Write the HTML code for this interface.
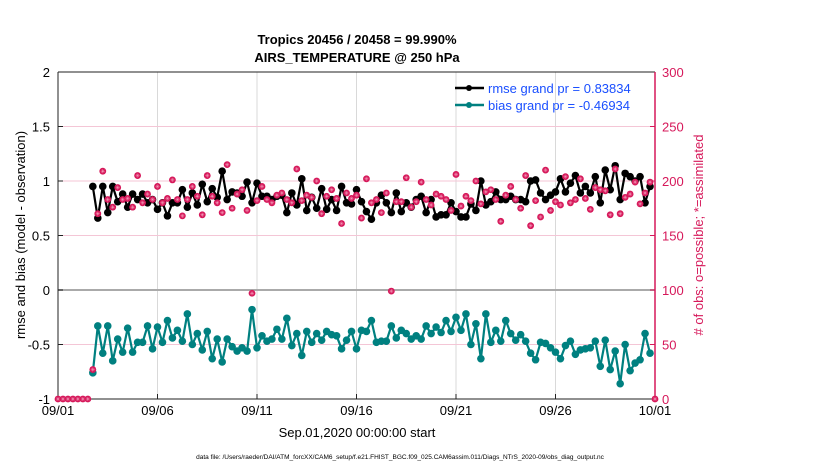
<!DOCTYPE html>
<html><head><meta charset="utf-8"><style>
body{margin:0;background:#fff;font-family:"Liberation Sans",sans-serif}
svg{display:block}
</style></head><body>
<svg id="chart" width="830" height="470" viewBox="0 0 830 470" font-family="Liberation Sans, sans-serif">
<g font-weight="bold" font-size="13" text-anchor="middle">
<text x="357" y="44">Tropics 20456 / 20458 = 99.990%</text>
<text x="357" y="62">AIRS_TEMPERATURE @ 250 hPa</text>
</g>
<rect x="58" y="72" width="597" height="327" fill="#fff"/>
<g id="grid"></g>
<g id="axes"></g>
<g id="series"></g>
<g font-size="13" fill="#1a4fff">
<line x1="455" y1="88" x2="484" y2="88" stroke="#000" stroke-width="2.5"/>
<circle cx="469" cy="88" r="3" fill="#000"/>
<text x="488" y="93">rmse grand pr = 0.83834</text>
<line x1="455" y1="105" x2="484" y2="105" stroke="#008080" stroke-width="2.5"/>
<circle cx="469" cy="105" r="3" fill="#008080"/>
<text x="488" y="110">bias grand pr = -0.46934</text>
</g>
<text transform="translate(25,235) rotate(-90)" text-anchor="middle" font-size="13">rmse and bias (model - observation)</text>
<text transform="translate(703,235) rotate(-90)" text-anchor="middle" font-size="13" fill="#d6185a"># of obs: o=possible; *=assimilated</text>
<text x="357" y="437" text-anchor="middle" font-size="13">Sep.01,2020 00:00:00 start</text>
<text x="400" y="459" text-anchor="middle" font-size="6.5">data file: /Users/raeder/DAI/ATM_forcXX/CAM6_setup/f.e21.FHIST_BGC.f09_025.CAM6assim.011/Diags_NTrS_2020-09/obs_diag_output.nc</text>
</svg>
<script>
const xTickLabels=["09/01","09/06","09/11","09/16","09/21","09/26","10/01"];
const xTickDays=[0,5,10,15,20,25,30];
const yTicks=[-1,-0.5,0,0.5,1,1.5,2];
const yTickLabels=["-1","-0.5","0","0.5","1","1.5","2"];
const y2Ticks=[0,50,100,150,200,250,300];
const startDay=1.75, stepDay=0.25;
const rmse=[0.95,0.66,0.95,0.71,0.95,0.81,0.88,0.76,0.88,0.83,0.88,0.80,0.83,0.74,0.80,0.68,0.80,0.80,0.92,0.76,0.89,0.78,0.97,0.81,0.93,0.85,1.09,0.83,0.90,0.89,0.86,0.99,0.80,0.98,0.86,
0.86,0.83,0.86,0.87,0.71,0.89,0.78,1.02,0.73,0.85,0.75,0.93,0.74,0.83,0.73,0.95,0.80,0.79,0.92,0.81,0.72,0.65,0.80,0.87,0.80,0.71,0.89,0.72,0.80,0.76,0.83,0.86,0.71,0.83,0.67,0.69,0.69,0.80,0.72,0.67,
0.67,0.79,0.73,1.00,0.78,0.81,0.90,0.83,0.83,0.86,0.83,0.83,0.81,1.00,1.01,0.89,0.83,0.87,0.90,1.02,0.90,0.98,1.05,0.89,0.95,0.89,1.04,0.80,1.10,0.92,1.14,0.83,1.07,1.04,1.00,1.04,0.80,0.95];
const bias=[-0.76,-0.33,-0.58,-0.33,-0.65,-0.45,-0.57,-0.35,-0.57,-0.48,-0.48,-0.33,-0.54,-0.34,-0.48,-0.28,-0.44,-0.37,-0.47,-0.22,-0.50,-0.40,-0.55,-0.38,-0.63,-0.45,-0.66,-0.45,-0.52,-0.56,-0.53,-0.56,-0.18,-0.53,-0.42,
-0.47,-0.45,-0.36,-0.45,-0.26,-0.51,-0.40,-0.60,-0.38,-0.48,-0.40,-0.46,-0.38,-0.41,-0.42,-0.54,-0.46,-0.38,-0.54,-0.37,-0.38,-0.28,-0.48,-0.47,-0.47,-0.33,-0.44,-0.37,-0.40,-0.45,-0.42,-0.45,-0.33,-0.40,-0.34,-0.39,-0.28,-0.38,-0.25,-0.37,
-0.22,-0.50,-0.31,-0.63,-0.22,-0.48,-0.37,-0.47,-0.28,-0.40,-0.46,-0.41,-0.47,-0.58,-0.64,-0.48,-0.49,-0.53,-0.57,-0.63,-0.51,-0.47,-0.59,-0.55,-0.54,-0.53,-0.47,-0.70,-0.46,-0.73,-0.56,-0.86,-0.50,-0.74,-0.67,-0.64,-0.40,-0.58];
const obsCount=[27,170,209,183,176,194,183,184,176,205,180,188,183,195,180,184,201,183,168,183,195,186,169,205,186,180,171,215,175,188,192,173,97,182,195,
183,180,187,189,183,180,211,182,187,185,200,170,186,192,184,161,189,184,187,166,202,180,183,171,189,99,181,181,203,176,181,199,183,178,188,186,183,173,206,177,
186,182,200,179,190,192,183,163,187,195,183,175,205,159,182,167,210,173,181,178,204,180,183,202,184,174,194,192,191,169,211,170,185,188,199,179,189,199];
const zeroObsDays=[0,0.25,0.5,0.75,1,1.25,1.5,30];

const NS="http://www.w3.org/2000/svg";
const L=58,R=655,T=72,B=399;
const xS=d=>L+(R-L)*d/30;
const yS=v=>B-(B-T)*(v+1)/3;
const y2S=c=>B-(B-T)*c/300;
function mk(tag,attrs,parent){const e=document.createElementNS(NS,tag);for(const k in attrs)e.setAttribute(k,attrs[k]);parent.appendChild(e);return e;}
const grid=document.getElementById('grid'),axes=document.getElementById('axes'),ser=document.getElementById('series');

xTickDays.forEach((d,i)=>{
  if(i>0&&i<xTickDays.length-1){const g=mk('line',{x1:xS(d),x2:xS(d),y1:T,y2:B,stroke:'#d9d9d9','stroke-width':1},grid);
  
  }
  const t=mk('line',{x1:xS(d),x2:xS(d),y1:B,y2:B-5,stroke:'#222'},axes);
  const lb=mk('text',{x:xS(d),y:B+16,'text-anchor':'middle','font-size':13},axes);lb.textContent=xTickLabels[i];
  
  
});
y2Ticks.forEach(c=>{
  if(c>0&&c<300&&c!==100){const g=mk('line',{x1:L,x2:R,y1:y2S(c),y2:y2S(c),stroke:'#f4c6d6','stroke-width':1},grid);
  
  }
  mk('line',{x1:R,x2:R-5,y1:y2S(c),y2:y2S(c),stroke:'#d6185a'},axes);
  const lb=mk('text',{x:R+7,y:y2S(c)+5,'font-size':13,fill:'#d6185a'},axes);lb.textContent=c;
  
  
});
const z=mk('line',{x1:L,x2:R,y1:yS(0),y2:yS(0),stroke:'#aaa','stroke-width':2},grid);


yTicks.forEach((v,i)=>{
  mk('line',{x1:L,x2:L+5,y1:yS(v),y2:yS(v),stroke:'#222'},axes);
  const lb=mk('text',{x:L-8,y:yS(v)+5,'text-anchor':'end','font-size':13},axes);lb.textContent=yTickLabels[i];
  
  
});
mk('line',{x1:L,x2:L,y1:T,y2:B,stroke:'#222'},axes);
mk('line',{x1:L,x2:R,y1:T,y2:T,stroke:'#222'},axes);
mk('line',{x1:L,x2:R,y1:B,y2:B,stroke:'#222'},axes);
mk('line',{x1:R,x2:R,y1:T,y2:B,stroke:'#d6185a','stroke-width':1.5},axes);

function line(arr,color,name){
  const pts=arr.map((v,i)=>xS(startDay+i*stepDay).toFixed(1)+','+yS(v).toFixed(1)).join(' ');
  const p=mk('polyline',{points:pts,fill:'none',stroke:color,'stroke-width':2.2},ser);
  
  
  arr.forEach((v,i)=>{const c=mk('circle',{cx:xS(startDay+i*stepDay),cy:yS(v),r:3.8,fill:color},ser);
    
    });
}
function obs(d,c){
  const g=mk('g',{},ser);
  
  
  const x=xS(d),y=y2S(c);
  mk('circle',{cx:x,cy:y,r:3.4,fill:'#d6185a'},g);
  mk('path',{d:`M${x-2},${y}H${x+2}M${x},${y-2}V${y+2}M${x-1.4},${y-1.4}L${x+1.4},${y+1.4}M${x-1.4},${y+1.4}L${x+1.4},${y-1.4}`,stroke:'#f29ab8','stroke-width':0.5},g);
}
line(rmse,'#000','rmse');
line(bias,'#008080','bias');
obsCount.forEach((c,i)=>obs(startDay+i*stepDay,c));
zeroObsDays.forEach(d=>obs(d,0));
</script>
</body></html>
